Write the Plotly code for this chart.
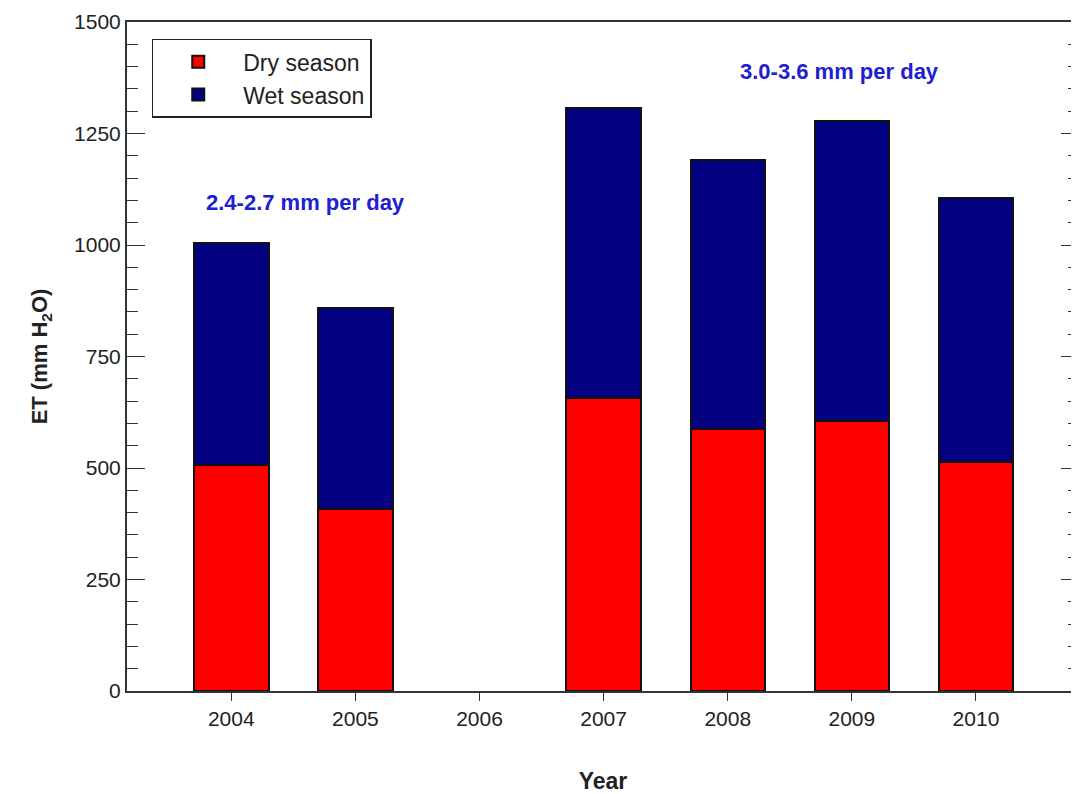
import plotly.graph_objects as go

years = [2004, 2005, 2006, 2007, 2008, 2009, 2010]
dry = [507, 408, None, 657, 587, 605, 513]
wet = [497, 451, None, 650, 603, 673, 592]
yticks = [0, 250, 500, 750, 1000, 1250, 1500]

fig = go.Figure()
fig.add_bar(x=years, y=dry, name="Dry season", marker=dict(color="#ff0000", line=dict(color="#111", width=2)), width=0.6)
fig.add_bar(x=years, y=wet, name="Wet season", marker=dict(color="#000080", line=dict(color="#111", width=2)), width=0.6)

fig.update_layout(
    barmode="stack", width=1071, height=786, plot_bgcolor="white", paper_bgcolor="white",
    margin=dict(l=119, r=0, t=14, b=103, autoexpand=False), font=dict(family="Liberation Sans, Arial", size=21, color="#222"),
    legend=dict(x=0.026, y=0.975, xanchor="left", yanchor="top", bordercolor="#222", borderwidth=1.5,
                traceorder="normal", font=dict(size=23), bgcolor="white", tracegroupgap=4, itemwidth=80),
    xaxis=dict(range=[2003.16, 2010.83], tickvals=years, ticks="outside", ticklen=8, tickcolor="#333",
               showline=True, linecolor="#333", linewidth=2, mirror=True, showgrid=False, automargin=False,
               title=dict(text="<b>Year</b>", standoff=44, font=dict(size=23))),
    yaxis=dict(range=[0, 1500], tickvals=yticks, ticks="inside", ticklen=18, tickcolor="#333",
               minor=dict(dtick=50, ticks="inside", ticklen=11, tickcolor="#333"),
               showline=True, linecolor="#333", linewidth=2, mirror="ticks", showgrid=False, automargin=False,
               title=dict(text="<b>ET (mm H<sub>2</sub>O)</b>", standoff=20, font=dict(size=22))),
)
fig.add_annotation(x=2004.6, y=1095, text="<b>2.4-2.7 mm per day</b>", showarrow=False, font=dict(size=22, color="#2020d0"))
fig.add_annotation(x=2008.9, y=1390, text="<b>3.0-3.6 mm per day</b>", showarrow=False, font=dict(size=22, color="#2020d0"))
fig.write_html("out.html")
